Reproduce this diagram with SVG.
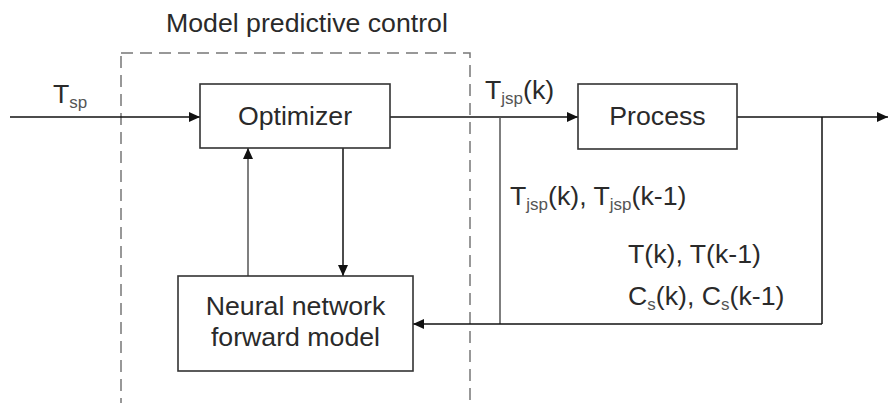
<svg xmlns="http://www.w3.org/2000/svg" width="888" height="403" viewBox="0 0 888 403">
<style>
text{font-family:"Liberation Sans",Arial,sans-serif;fill:#2a2a2a;}
.lbl{font-size:26.7px;}
.sub{font-size:17px;fill:#555;}
.box{fill:#fff;stroke:#333;stroke-width:1.6;}
.ln{fill:none;stroke:#111;stroke-width:1.5;}
.gl{fill:none;stroke:#555;stroke-width:1.5;}
</style>
<defs>
<marker id="ah" markerUnits="userSpaceOnUse" markerWidth="12" markerHeight="10" refX="11" refY="5" orient="auto">
<path d="M0,0 L11,5 L0,10 Z" fill="#111"/>
</marker>
</defs>
<g id="mpc">
<rect x="121" y="53" width="349" height="352" fill="none" stroke="#777" stroke-width="1.5" stroke-dasharray="12 7"/>
<text class="lbl" x="166" y="32">Model predictive control</text>
</g>
<g id="connectors">
<line class="ln" x1="10" y1="117" x2="200" y2="117" marker-end="url(#ah)"/>
<line class="ln" x1="390" y1="117" x2="578" y2="117" marker-end="url(#ah)"/>
<line class="ln" x1="737" y1="117" x2="888" y2="117" marker-end="url(#ah)"/>
<line class="gl" x1="500" y1="117" x2="500" y2="324"/>
<line class="ln" x1="822" y1="117" x2="822" y2="324"/>
<line class="ln" x1="822" y1="324" x2="413" y2="324" marker-end="url(#ah)"/>
<line class="gl" x1="248" y1="276" x2="248" y2="148" marker-end="url(#ah)"/>
<line class="ln" x1="343" y1="148" x2="343" y2="276" marker-end="url(#ah)"/>
</g>
<g id="optimizer">
<rect class="box" x="200" y="84" width="190" height="64"/>
<text class="lbl" x="295" y="125" text-anchor="middle">Optimizer</text>
</g>
<g id="process">
<rect class="box" x="578" y="84" width="159" height="65"/>
<text class="lbl" x="657.5" y="125" text-anchor="middle">Process</text>
</g>
<g id="nn">
<rect class="box" x="178" y="276" width="235" height="95"/>
<text class="lbl" x="295.5" y="315" text-anchor="middle">Neural network</text>
<text class="lbl" x="295.5" y="346" text-anchor="middle">forward model</text>
</g>
<g id="labels">
<text class="lbl" x="53" y="103">T<tspan class="sub" dy="5">sp</tspan></text>
<text class="lbl" x="485" y="99">T<tspan class="sub" dy="5">jsp</tspan><tspan dy="-5">(k)</tspan></text>
<text class="lbl" x="510" y="205">T<tspan class="sub" dy="5">jsp</tspan><tspan dy="-5">(k), T</tspan><tspan class="sub" dy="5">jsp</tspan><tspan dy="-5">(k-1)</tspan></text>
<text class="lbl" x="628" y="263">T(k), T(k-1)</text>
<text class="lbl" x="628" y="305">C<tspan class="sub" dy="5">s</tspan><tspan dy="-5">(k), C</tspan><tspan class="sub" dy="5">s</tspan><tspan dy="-5">(k-1)</tspan></text>
</g>
</svg>
